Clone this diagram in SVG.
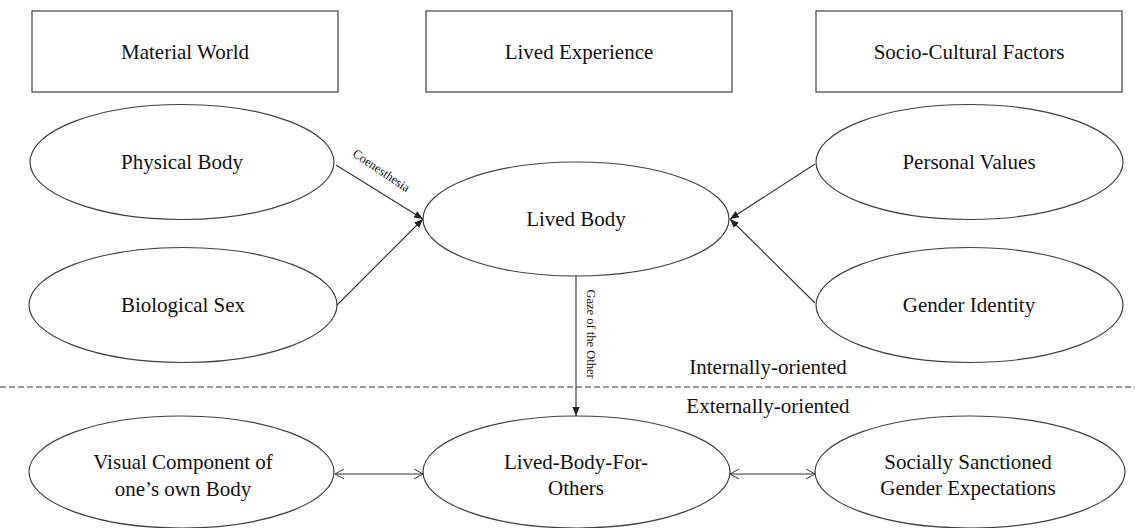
<svg xmlns="http://www.w3.org/2000/svg" width="1135" height="528" viewBox="0 0 1135 528">
<style>
.box{fill:#fff;stroke:#404040;stroke-width:1.2}
.ell{fill:#fff;stroke:#404040;stroke-width:1.2}
text{font-family:'Liberation Serif',serif;fill:#111;text-anchor:middle}
.t{font-size:21px}
.s{font-size:12.5px}
.c{stroke:#333;stroke-width:1.1;fill:none}
.dash{stroke:#333;stroke-width:1.1;stroke-dasharray:6 3;fill:none}
</style>
<defs>
<marker id="fa" viewBox="0 0 10 10" refX="10" refY="5" markerWidth="9" markerHeight="9" markerUnits="userSpaceOnUse" orient="auto">
<path d="M0,1 L10,5 L0,9 z" fill="#222"/>
</marker>
<marker id="oa" viewBox="0 0 10 12" refX="10" refY="6" markerWidth="9" markerHeight="11" markerUnits="userSpaceOnUse" orient="auto-start-reverse">
<path d="M0,0.5 L10,6 L0,11.5" fill="none" stroke="#333" stroke-width="1.1"/>
</marker>
</defs>

<g id="box-material"><rect class="box" x="32" y="11" width="306" height="81"/><text class="t" x="185" y="59">Material World</text></g>
<g id="box-lived"><rect class="box" x="426" y="11" width="306" height="81"/><text class="t" x="579" y="59">Lived Experience</text></g>
<g id="box-socio"><rect class="box" x="816" y="11" width="306" height="81"/><text class="t" x="969" y="59">Socio-Cultural Factors</text></g>

<g id="physical-body"><ellipse class="ell" cx="182" cy="162" rx="152" ry="57.5"/><text class="t" x="182" y="169">Physical Body</text></g>
<g id="biological-sex"><ellipse class="ell" cx="183" cy="305" rx="154" ry="57.5"/><text class="t" x="183" y="312">Biological Sex</text></g>
<g id="lived-body"><ellipse class="ell" cx="576" cy="219" rx="153" ry="57"/><text class="t" x="576" y="226">Lived Body</text></g>
<g id="personal-values"><ellipse class="ell" cx="969.5" cy="162" rx="153.5" ry="57.5"/><text class="t" x="969" y="169">Personal Values</text></g>
<g id="gender-identity"><ellipse class="ell" cx="969.5" cy="305" rx="153.5" ry="57.5"/><text class="t" x="969" y="312">Gender Identity</text></g>

<g id="visual-component"><ellipse class="ell" cx="181.5" cy="472" rx="152.5" ry="56"/><text class="t" x="183" y="469">Visual Component of</text><text class="t" x="183" y="496">one’s own Body</text></g>
<g id="lived-body-for-others"><ellipse class="ell" cx="576.5" cy="472" rx="153.5" ry="56"/><text class="t" x="576" y="469">Lived-Body-For-</text><text class="t" x="576" y="495">Others</text></g>
<g id="socially-sanctioned"><ellipse class="ell" cx="970" cy="472" rx="155" ry="56"/><text class="t" x="968" y="469">Socially  Sanctioned</text><text class="t" x="968" y="495">Gender Expectations</text></g>

<g id="divider">
<line class="dash" x1="0" y1="387" x2="1135" y2="387"/>
<text class="t" x="768" y="374">Internally-oriented</text>
<text class="t" x="768" y="413">Externally-oriented</text>
</g>

<g id="connectors">
<line class="c" x1="336" y1="165" x2="423" y2="219" marker-end="url(#fa)"/>
<line class="c" x1="337" y1="305" x2="423" y2="219" marker-end="url(#fa)"/>
<line class="c" x1="815" y1="164" x2="730" y2="219" marker-end="url(#fa)"/>
<line class="c" x1="815" y1="303" x2="730" y2="219" marker-end="url(#fa)"/>
<line class="c" x1="576" y1="276" x2="576" y2="416" marker-end="url(#fa)"/>
<line class="c" x1="335" y1="474" x2="423" y2="474" marker-start="url(#oa)" marker-end="url(#oa)"/>
<line class="c" x1="730" y1="474" x2="815" y2="474" marker-start="url(#oa)" marker-end="url(#oa)"/>
<text class="s" transform="translate(379,174) rotate(34)">Coenesthesia</text>
<text class="s" transform="translate(587,334) rotate(90)">Gaze of the Other</text>
</g>
</svg>
